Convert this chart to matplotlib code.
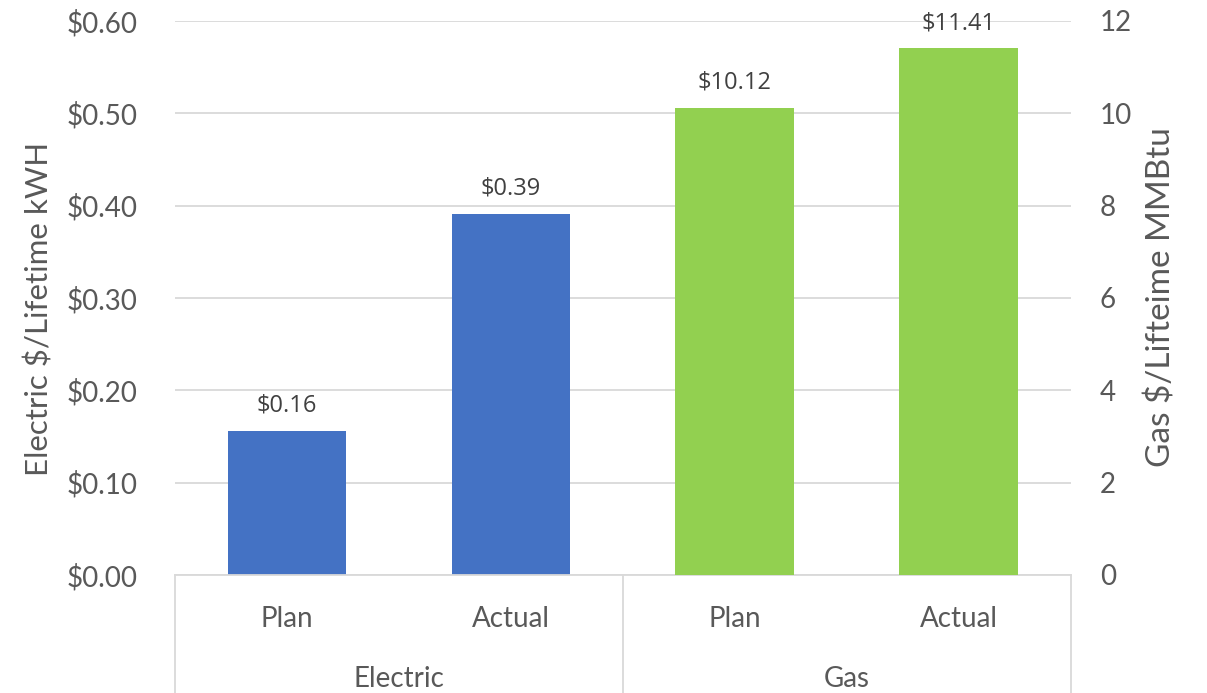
import matplotlib
matplotlib.use("Agg")
import matplotlib.pyplot as plt
import matplotlib.transforms as mtransforms
from matplotlib.ticker import FuncFormatter

groups = ["Electric", "Gas"]
sub_labels = ["Plan", "Actual", "Plan", "Actual"]
electric_vals = [0.156, 0.391]
gas_vals = [10.12, 11.41]
electric_text = ["$0.16", "$0.39"]
gas_text = ["$10.12", "$11.41"]

blue = "#4472C4"
green = "#92D050"
grey = "#595959"
line_grey = "#D9D9D9"

plt.rcParams["font.family"] = ["Lato", "DejaVu Sans"]

fig = plt.figure(figsize=(12.07, 6.93), dpi=100)
ax = fig.add_axes([0.145, 0.1703, 0.742, 0.7994])
ax2 = ax.twinx()

w = 0.53
ax.bar([0, 1], electric_vals, width=w, color=blue, zorder=3)
ax2.bar([2, 3], gas_vals, width=w, color=green, zorder=3)

lab_kw = dict(xytext=(0, 13.7), textcoords="offset points", ha="center",
              va="baseline", fontsize=17, color="#404040",
              family=["Open Sans", "DejaVu Sans"])
for x, v, t in zip([0, 1], electric_vals, electric_text):
    ax.annotate(t, xy=(x, v), **lab_kw)
for x, v, t in zip([2, 3], gas_vals, gas_text):
    ax2.annotate(t, xy=(x, v), **lab_kw)

ax.set_xlim(-0.5, 3.5)
ax.set_ylim(0, 0.6)
ax2.set_ylim(0, 12)
ax.set_yticks([0, 0.1, 0.2, 0.3, 0.4, 0.5, 0.6])
ax2.set_yticks([0, 2, 4, 6, 8, 10, 12])
ax.yaxis.set_major_formatter(FuncFormatter(lambda v, p: "${:.2f}".format(v)))
ax.grid(axis="y", color=line_grey, linewidth=1.3, zorder=0)
ax.set_axisbelow(True)

for a in (ax, ax2):
    for s in a.spines.values():
        s.set_visible(False)
    a.tick_params(axis="y", length=0, labelsize=20, labelcolor=grey)
ax.tick_params(axis="y", pad=27)
ax2.tick_params(axis="y", pad=21)

ax.set_xticks([])
ax.set_ylabel("Electric $/Lifetime kWH", fontsize=22.5, color=grey)
ax2.set_ylabel("Gas $/Lifteime MMBtu", fontsize=24, color=grey)
ax.yaxis.set_label_coords(-0.136, 0.48)
ax2.yaxis.set_label_coords(1.084, 0.502)

# two-level category axis
trans = mtransforms.blended_transform_factory(ax.transData, ax.transAxes)
ax.plot([-0.5, 3.5], [0, 0], transform=trans, color=line_grey, lw=1.3,
        clip_on=False, zorder=4)
for xv in [-0.5, 1.5, 3.5]:
    ax.plot([xv, xv], [0, -0.22], transform=trans, color=line_grey, lw=1.3,
            clip_on=False)
for i, lab in enumerate(sub_labels):
    ax.text(i, -0.079, lab, transform=trans, ha="center", va="center",
            fontsize=20, color=grey)
for i, g in enumerate(groups):
    ax.text(0.5 + 2 * i, -0.187, g, transform=trans, ha="center", va="center",
            fontsize=20, color=grey)

fig.savefig("out.png", dpi=100)
